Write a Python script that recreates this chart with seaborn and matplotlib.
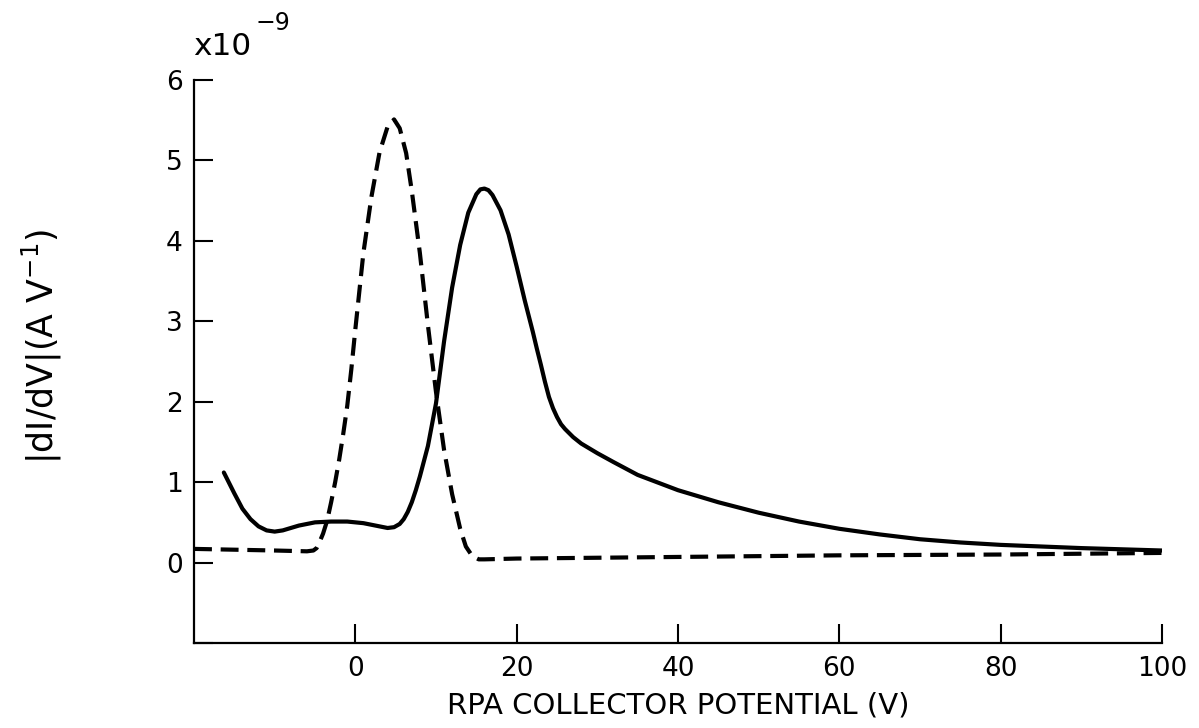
import matplotlib
matplotlib.use("Agg")
import matplotlib.pyplot as plt
import seaborn as sns
import pandas as pd

# Solid curve (values in units of 1e-9 A/V)
solid_x = [-16.3, -15.5, -15, -14, -13, -12, -11, -10, -9, -8, -7, -6, -5, -3, -1, 0, 1,
           2.5, 4, 4.8, 5.5, 6, 6.5, 7, 7.5, 8, 9, 10, 11, 12, 13, 14, 15, 15.5, 16, 16.5,
           17, 18, 19, 20, 21, 22, 22.5, 23, 23.5, 24, 24.5, 25, 25.5, 26, 27, 28, 30, 32,
           35, 40, 45, 50, 55, 60, 65, 70, 75, 80, 90, 100]
solid_y = [1.12, 0.96, 0.86, 0.67, 0.54, 0.45, 0.40, 0.385, 0.40, 0.43, 0.46, 0.48, 0.50,
           0.51, 0.51, 0.50, 0.49, 0.46, 0.43, 0.44, 0.48, 0.54, 0.63, 0.75, 0.90, 1.07,
           1.45, 1.98, 2.75, 3.42, 3.95, 4.35, 4.58, 4.64, 4.65, 4.63, 4.57, 4.38, 4.08,
           3.68, 3.26, 2.87, 2.66, 2.46, 2.25, 2.06, 1.92, 1.81, 1.72, 1.66, 1.56, 1.48,
           1.36, 1.25, 1.09, 0.90, 0.75, 0.62, 0.51, 0.42, 0.35, 0.29, 0.25, 0.22, 0.18,
           0.15]

# Dashed curve (values in units of 1e-9 A/V)
dash_x = [-20, -15, -10, -6, -5.2, -4.8, -4.5, -4, -3.5, -3, -2.5, -2, -1.5, -1, -0.5, 0,
          1, 2, 3, 4, 4.8, 5.5, 6.3, 7, 8, 9, 10, 11, 12, 13, 13.7, 14.5, 15.3, 16, 20, 40,
          60, 80, 100]
dash_y = [0.17, 0.16, 0.15, 0.14, 0.15, 0.18, 0.24, 0.36, 0.52, 0.75, 1.00, 1.28, 1.60,
          1.95, 2.40, 2.90, 3.85, 4.55, 5.10, 5.42, 5.51, 5.40, 5.09, 4.62, 3.85, 2.95,
          2.12, 1.40, 0.85, 0.42, 0.20, 0.08, 0.04, 0.04, 0.05, 0.07, 0.09, 0.10, 0.12]

x_ticks = [0, 20, 40, 60, 80, 100]
y_ticks = [-1, 0, 1, 2, 3, 4, 5, 6]
y_ticklabels = ["", "0", "1", "2", "3", "4", "5", "6"]

sns.set_theme(style="ticks")
plt.rcParams["font.family"] = ["DejaVu Sans"]
plt.rcParams["xtick.direction"] = "in"
plt.rcParams["ytick.direction"] = "in"

W, H = 1199, 728
fig = plt.figure(figsize=(W / 100, H / 100), dpi=100)
ax = fig.add_axes([194 / W, 1 - 643 / H, (1162 - 194) / W, (643 - 80) / H])

df_s = pd.DataFrame({"x": solid_x, "y": solid_y})
df_d = pd.DataFrame({"x": dash_x, "y": dash_y})

sns.lineplot(data=df_s, x="x", y="y", ax=ax, color="black", linewidth=3.0,
             sort=False, estimator=None)
sns.lineplot(data=df_d, x="x", y="y", ax=ax, color="black", linewidth=3.0,
             sort=False, estimator=None)
ax.lines[0].set_solid_joinstyle("round")
ax.lines[0].set_solid_capstyle("round")
ax.lines[1].set_linestyle((0, (4.3, 2.1)))

ax.set_xlim(-20, 100)
ax.set_ylim(-1, 6)
ax.set_xticks(x_ticks)
ax.set_yticks(y_ticks)
ax.set_yticklabels(y_ticklabels)
ax.tick_params(axis="both", which="major", direction="in", length=14, width=1.5,
               labelsize=19, colors="black")
ax.tick_params(axis="x", pad=9)
ax.tick_params(axis="y", pad=8)

sns.despine(ax=ax, top=True, right=True)
for s in ["left", "bottom"]:
    ax.spines[s].set_linewidth(1.6)
    ax.spines[s].set_color("black")

ax.set_xlabel("RPA COLLECTOR POTENTIAL (V)", fontsize=21, labelpad=7, color="black")
ax.set_ylabel("")
fig.text(42 / W, 1 - 346 / H, r"$|$dI/dV$|$(A V$^{-1}$)", rotation=90, fontsize=25,
         ha="center", va="center", color="black")
fig.text(193 / W, 1 - 55 / H, "x10", fontsize=22.5, ha="left", va="baseline",
         color="black")
fig.text(256 / W, 1 - 30 / H, "\u22129", fontsize=17, ha="left", va="baseline",
         color="black")

fig.savefig("out.png", dpi=100)
